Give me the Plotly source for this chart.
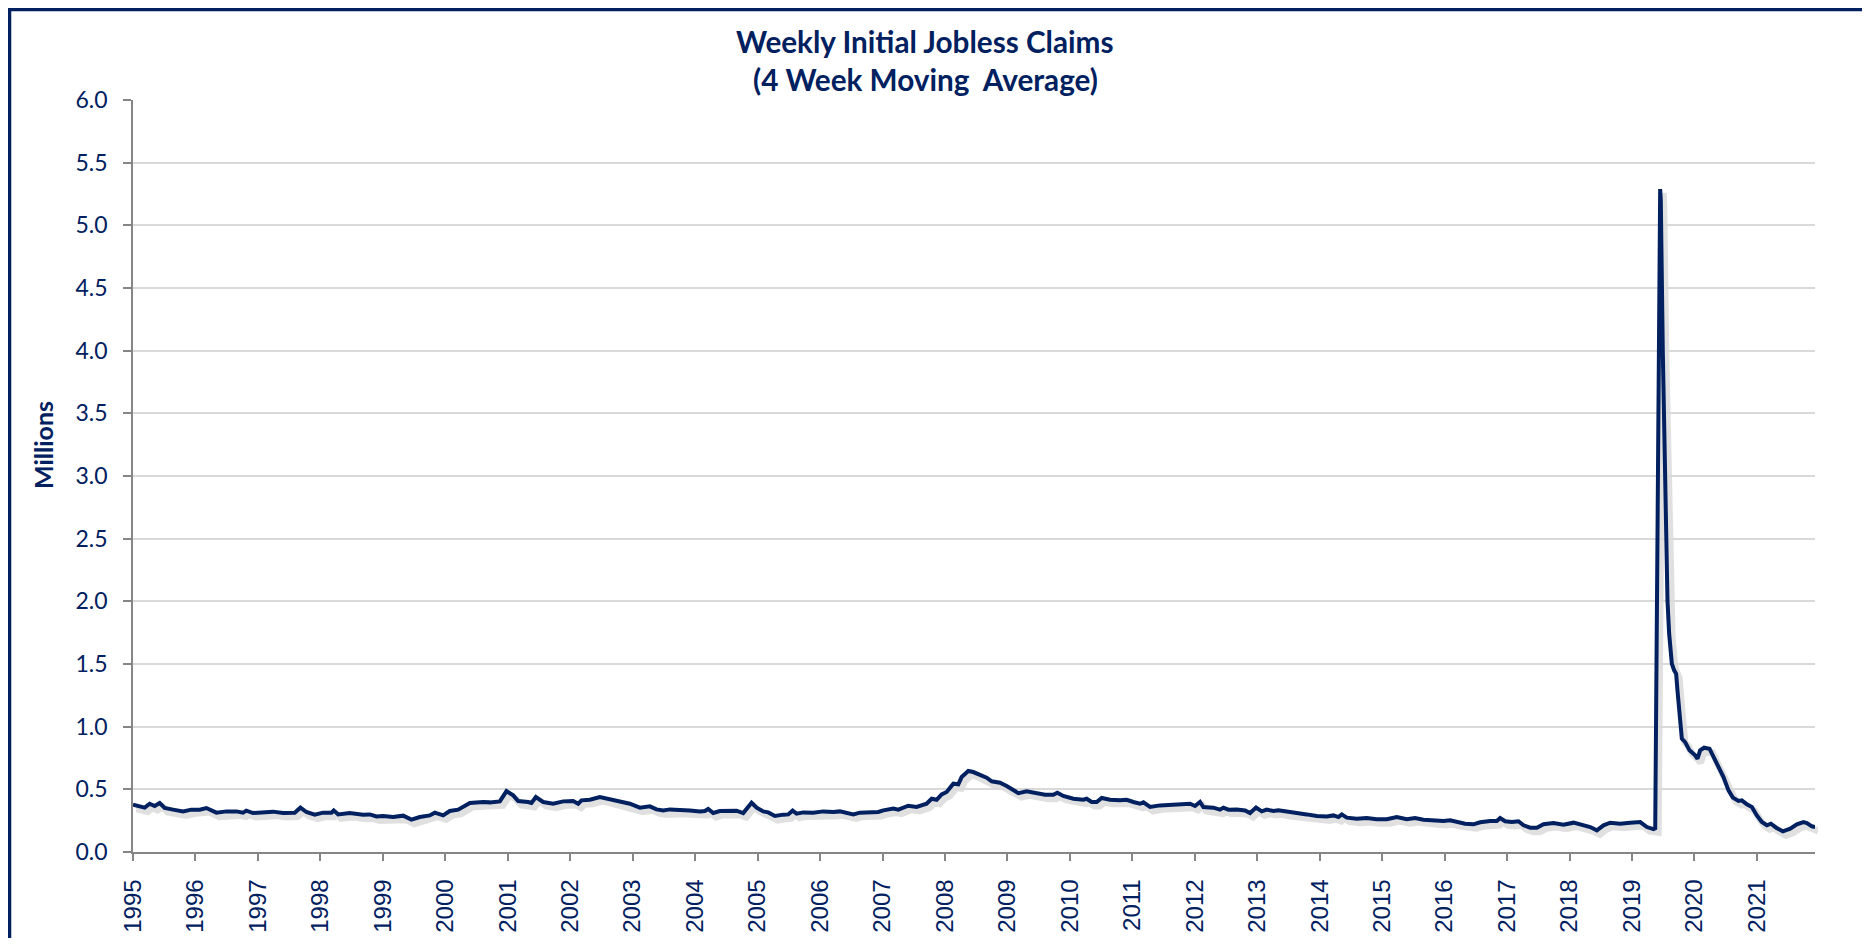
import plotly.graph_objects as go

NAVY = "#002060"

# ---- data (year position on axis, millions) ----
years_a = [1995.000, 1995.053, 1995.187, 1995.267, 1995.347, 1995.427, 1995.507, 1995.641, 1995.801, 1995.934,
           1996.068, 1996.175, 1996.335, 1996.495, 1996.655, 1996.762, 1996.815, 1996.922, 1997.082, 1997.242,
           1997.403, 1997.589, 1997.680, 1997.776, 1997.910, 1998.043, 1998.177, 1998.214, 1998.284, 1998.470,
           1998.684, 1998.791, 1998.898, 1999.004, 1999.165, 1999.325, 1999.458, 1999.592, 1999.752, 1999.832,
           1999.966, 2000.072, 2000.206, 2000.286, 2000.393, 2000.607, 2000.713, 2000.873, 2000.980, 2001.087,
           2001.167, 2001.327, 2001.380, 2001.450, 2001.567, 2001.727, 2001.887, 2002.047, 2002.128, 2002.181,
           2002.315, 2002.475, 2002.635, 2002.795, 2002.955, 2003.115]
claims_a = [0.377, 0.372, 0.354, 0.385, 0.367, 0.391, 0.351, 0.338, 0.324, 0.338,
            0.338, 0.351, 0.314, 0.324, 0.324, 0.314, 0.330, 0.311, 0.314, 0.322,
            0.311, 0.314, 0.354, 0.319, 0.298, 0.314, 0.314, 0.332, 0.300, 0.311,
            0.298, 0.300, 0.284, 0.287, 0.279, 0.290, 0.258, 0.279, 0.292, 0.314,
            0.292, 0.327, 0.338, 0.359, 0.391, 0.399, 0.396, 0.404, 0.486, 0.452,
            0.407, 0.399, 0.391, 0.439, 0.399, 0.385, 0.404, 0.407, 0.385, 0.412,
            0.417, 0.439, 0.420, 0.404, 0.385, 0.354]

years_b = [2003.275, 2003.382, 2003.489, 2003.596, 2003.756, 2003.916, 2004.076, 2004.156, 2004.209, 2004.290,
           2004.396, 2004.557, 2004.663, 2004.770, 2004.904, 2004.984, 2005.090, 2005.171, 2005.277, 2005.411,
           2005.491, 2005.560, 2005.624, 2005.731, 2005.891, 2006.051, 2006.212, 2006.318, 2006.425, 2006.532,
           2006.639, 2006.799, 2006.932, 2007.013, 2007.173, 2007.253, 2007.333, 2007.413, 2007.546, 2007.706,
           2007.787, 2007.867, 2007.947, 2008.027, 2008.134, 2008.214, 2008.267, 2008.374, 2008.454, 2008.534,
           2008.668, 2008.748, 2008.881, 2008.988, 2009.068, 2009.175, 2009.308, 2009.468, 2009.602, 2009.735,
           2009.799, 2009.895, 2010.056, 2010.216, 2010.269, 2010.349, 2010.429, 2010.510, 2010.643, 2010.803,
           2010.910, 2011.017, 2011.123, 2011.177]
claims_b = [0.364, 0.340, 0.332, 0.340, 0.338, 0.332, 0.324, 0.327, 0.343, 0.311,
            0.327, 0.324, 0.330, 0.311, 0.393, 0.354, 0.324, 0.316, 0.287, 0.298,
            0.300, 0.330, 0.306, 0.316, 0.314, 0.324, 0.319, 0.324, 0.311, 0.300,
            0.314, 0.314, 0.319, 0.332, 0.346, 0.338, 0.351, 0.369, 0.359, 0.385,
            0.425, 0.417, 0.460, 0.479, 0.545, 0.540, 0.598, 0.646, 0.638, 0.619,
            0.593, 0.564, 0.553, 0.526, 0.500, 0.470, 0.484, 0.465, 0.457, 0.457,
            0.473, 0.447, 0.425, 0.417, 0.425, 0.399, 0.399, 0.431, 0.417, 0.412,
            0.417, 0.399, 0.385, 0.396]

years_c = [2011.284, 2011.443, 2011.603, 2011.764, 2011.924, 2012.004, 2012.084, 2012.137, 2012.297, 2012.404,
           2012.458, 2012.538, 2012.671, 2012.805, 2012.885, 2012.981, 2013.072, 2013.152, 2013.259, 2013.339,
           2013.472, 2013.632, 2013.792, 2013.953, 2014.113, 2014.219, 2014.300, 2014.353, 2014.433, 2014.593,
           2014.753, 2014.914, 2015.074, 2015.234, 2015.394, 2015.527, 2015.661, 2015.821, 2015.981, 2016.088,
           2016.195, 2016.328, 2016.462, 2016.569, 2016.729, 2016.836, 2016.889, 2016.969, 2017.076, 2017.183,
           2017.263, 2017.370, 2017.476, 2017.583, 2017.743, 2017.903, 2018.064, 2018.224, 2018.331, 2018.437,
           2018.544, 2018.651, 2018.811, 2018.971, 2019.131, 2019.238, 2019.345]
claims_c = [0.359, 0.372, 0.377, 0.377, 0.385, 0.367, 0.399, 0.359, 0.354, 0.338,
            0.354, 0.338, 0.340, 0.332, 0.311, 0.354, 0.324, 0.338, 0.327, 0.332,
            0.319, 0.311, 0.300, 0.287, 0.284, 0.292, 0.279, 0.300, 0.274, 0.266,
            0.271, 0.261, 0.261, 0.279, 0.261, 0.271, 0.258, 0.253, 0.247, 0.253,
            0.239, 0.226, 0.221, 0.237, 0.247, 0.247, 0.271, 0.245, 0.239, 0.245,
            0.213, 0.194, 0.194, 0.221, 0.231, 0.218, 0.234, 0.215, 0.199, 0.173,
            0.213, 0.234, 0.226, 0.234, 0.239, 0.199, 0.183]

years_d = [2019.372, 2019.451, 2019.461, 2019.493, 2019.547, 2019.568, 2019.595, 2019.638, 2019.675, 2019.707,
           2019.728, 2019.760, 2019.798, 2019.851, 2019.921, 2020.011, 2020.049, 2020.091, 2020.155, 2020.241,
           2020.305, 2020.385, 2020.465, 2020.545, 2020.615, 2020.705, 2020.759, 2020.839, 2020.919, 2020.999,
           2021.079, 2021.159, 2021.223, 2021.309, 2021.416, 2021.533, 2021.640, 2021.746, 2021.800, 2021.880,
           2021.933]
claims_d = [0.190, 5.290, 5.200, 4.000, 2.440, 2.007, 1.741, 1.502, 1.449, 1.422,
            1.289, 1.077, 0.904, 0.877, 0.811, 0.771, 0.744, 0.811, 0.832, 0.824,
            0.758, 0.665, 0.598, 0.492, 0.434, 0.407, 0.412, 0.380, 0.359, 0.292,
            0.239, 0.213, 0.226, 0.194, 0.165, 0.186, 0.221, 0.239, 0.231, 0.205,
            0.199]

year_ticks = list(range(1995, 2022))
year_labels = [str(y) for y in year_ticks]
y_ticks = [i * 0.5 for i in range(13)]
y_labels = [f"{v:.1f}" for v in y_ticks]

years = years_a + years_b + years_c + years_d
claims = claims_a + claims_b + claims_c + claims_d

# ---- layout geometry (page has an 8px body margin, so the figure is offset) ----
OFF = 8
W, H = 1862, 930
ML, MR, MT, MB = 125, 52, 92, 82
PW = W - ML - MR
PH = H - MT - MB
SX, SY = 3, 4  # shadow offset px


def px_x(px):
    """reference-image x pixel -> paper fraction"""
    return (px - OFF - ML) / PW


def px_y(py):
    """reference-image y pixel -> paper fraction"""
    return (H - MB - (py - OFF)) / PH


fig = go.Figure()
# soft shadow
fig.add_trace(go.Scatter(x=years, y=claims, mode="lines", xaxis="x", yaxis="y",
                         line=dict(color="rgba(0,0,0,0.12)", width=7), hoverinfo="skip",
                         showlegend=False))
# main line
fig.add_trace(go.Scatter(x=years, y=claims, mode="lines", xaxis="x2", yaxis="y2",
                         line=dict(color=NAVY, width=4), showlegend=False))

xr = [1995, 2021.93]
fig.update_layout(
    width=W, height=H,
    margin=dict(l=ML, r=MR, t=MT, b=MB, pad=0, autoexpand=False),
    paper_bgcolor="white", plot_bgcolor="rgba(0,0,0,0)",
    showlegend=False,
    xaxis=dict(domain=[SX / PW, 1], range=xr, visible=False, anchor="y", automargin=False),
    yaxis=dict(domain=[0, 1 - SY / PH], range=[0, 6], visible=False, anchor="x", automargin=False),
    xaxis2=dict(domain=[0, 1 - SX / PW], range=xr, anchor="y2", automargin=False,
                tickmode="array", tickvals=year_ticks, ticktext=year_labels,
                tickangle=-90, ticks="outside", ticklen=7, tickwidth=1.5, tickcolor="#868686",
                ticklabelstandoff=9,
                showline=True, linecolor="#868686", linewidth=1.5, showgrid=False, zeroline=False,
                tickfont=dict(family="Liberation Sans", size=24, color=NAVY)),
    yaxis2=dict(domain=[SY / PH, 1], range=[0, 6], anchor="x2", automargin=False,
                tickmode="array", tickvals=y_ticks, ticktext=y_labels,
                ticks="outside", ticklen=8, tickwidth=1.5, tickcolor="#868686",
                ticklabelstandoff=11,
                showline=True, linecolor="#868686", linewidth=1.5,
                showgrid=True, gridcolor="#d9d9d9", gridwidth=1.5, zeroline=False,
                tickfont=dict(family="Lato", size=23, color=NAVY)),
)

fig.add_annotation(text="<b>Weekly Initial Jobless Claims</b>", xref="paper", yref="paper",
                   x=px_x(925), y=px_y(42), xanchor="center", yanchor="middle", showarrow=False,
                   font=dict(family="Lato", size=29.7, color=NAVY))
fig.add_annotation(text="<b>(4 Week Moving  Average)</b>", xref="paper", yref="paper",
                   x=px_x(925), y=px_y(80), xanchor="center", yanchor="middle", showarrow=False,
                   font=dict(family="Lato", size=29.7, color=NAVY))
fig.add_annotation(text="<b>Millions</b>", xref="paper", yref="paper", textangle=-90,
                   x=px_x(43), y=px_y(445), xanchor="center", yanchor="middle", showarrow=False,
                   font=dict(family="Lato", size=25, color=NAVY))

fig.add_shape(type="rect", xref="paper", yref="paper",
              x0=px_x(9.5), x1=px_x(1867), y0=px_y(990), y1=px_y(9.5),
              line=dict(color=NAVY, width=3.5), fillcolor="rgba(0,0,0,0)", layer="above")

fig.write_html("out.html")
